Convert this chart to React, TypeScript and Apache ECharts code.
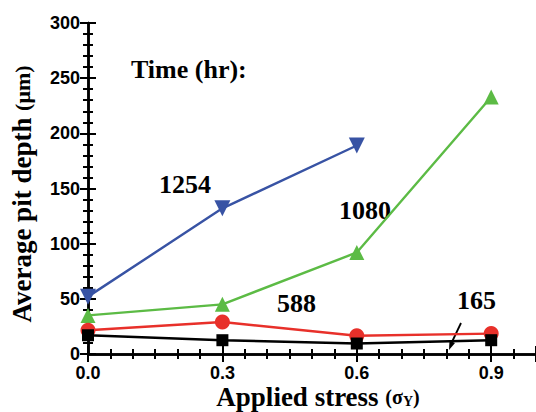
import React, { useEffect, useRef } from "react";
import * as echarts from "echarts";

const stress = [0.0, 0.3, 0.6, 0.9];
const depth1254 = [52, 132, 189];
const depth1080 = [35, 45, 92, 233];
const depth588 = [21.5, 29, 16.5, 18.5];
const depth165 = [17, 12.5, 9.5, 12.5];
const xTicks = [0.0, 0.3, 0.6, 0.9];
const yTicks = [0, 50, 100, 150, 200, 250, 300];

const pairs = (ys: number[]) => ys.map((y, i) => [stress[i], y]);

const BLUE = "#3853a4";
const GREEN = "#5cbb45";
const RED = "#e8302a";
const BLACK = "#000000";

const SANS = "Liberation Sans";
const SERIF = "Liberation Serif";
const annot = (text: string, x: number, y: number) => ({
  type: "text",
  x,
  y,
  style: { text, fontFamily: SERIF, fontWeight: "bold", fontSize: 26, fill: "#000", align: "left", verticalAlign: "middle" },
});

export default function App() {
  const ref = useRef<HTMLDivElement>(null);
  useEffect(() => {
    document.body.style.margin = "0";
    const chart = echarts.init(ref.current!, null, { renderer: "svg" });
    const axisLine = { show: true, lineStyle: { color: "#000", width: 2.5 } };
    const tick = { show: true, inside: true, length: 8, lineStyle: { width: 2, color: "#000" } };
    const grid = { left: 88, top: 23, width: 450, height: 331 };
    chart.setOption({
      animation: false,
      backgroundColor: "#fff",
      textStyle: { fontFamily: SANS, fontWeight: "bold", fontSize: 18, color: "#000" },
      grid,
      xAxis: [
        {
          type: "value",
          min: 0,
          max: 1.0,
          interval: 0.3,
          axisLine,
          axisTick: tick,
          minorTick: { show: true, splitNumber: 6, length: 5, lineStyle: { width: 2, color: "#000" } },
          splitLine: { show: false },
          axisLabel: {
            show: true,
            fontFamily: SANS,
            fontWeight: "bold",
            fontSize: 18,
            color: "#000",
            margin: 10,
            showMaxLabel: false,
            formatter: (v: number) => (xTicks.some((t) => Math.abs(t - v) < 1e-6) ? v.toFixed(1) : ""),
          },
        },
        {
          type: "value",
          position: "top",
          min: 0,
          max: 1.0,
          interval: 0.3,
          axisLine,
          axisTick: tick,
          minorTick: { show: true, splitNumber: 6, length: 5, lineStyle: { width: 2, color: "#000" } },
          splitLine: { show: false },
          axisLabel: { show: false },
        },
      ],
      yAxis: [
        {
          type: "value",
          min: 0,
          max: 300,
          interval: 50,
          axisLine,
          axisTick: tick,
          minorTick: { show: true, splitNumber: 5, length: 5, lineStyle: { width: 2, color: "#000" } },
          splitLine: { show: false },
          axisLabel: {
            show: true,
            fontFamily: SANS,
            fontWeight: "bold",
            fontSize: 18,
            color: "#000",
            margin: 8,
            formatter: (v: number) => (yTicks.includes(v) ? String(v) : ""),
          },
        },
        {
          type: "value",
          position: "right",
          min: 0,
          max: 300,
          interval: 50,
          axisLine,
          axisTick: tick,
          minorTick: { show: true, splitNumber: 5, length: 5, lineStyle: { width: 2, color: "#000" } },
          splitLine: { show: false },
          axisLabel: { show: false },
        },
      ],
      series: [
        {
          name: "1254",
          type: "line",
          data: pairs(depth1254),
          symbol: "triangle",
          symbolRotate: 180,
          symbolSize: 16,
          lineStyle: { color: BLUE, width: 2.4 },
          itemStyle: { color: BLUE },
        },
        {
          name: "1080",
          type: "line",
          data: pairs(depth1080),
          symbol: "triangle",
          symbolSize: 15,
          lineStyle: { color: GREEN, width: 2.4 },
          itemStyle: { color: GREEN },
        },
        {
          name: "588",
          type: "line",
          data: pairs(depth588),
          symbol: "circle",
          symbolSize: 15,
          lineStyle: { color: RED, width: 2.4 },
          itemStyle: { color: RED },
        },
        {
          name: "165",
          type: "line",
          data: pairs(depth165),
          symbol: "rect",
          symbolSize: 12,
          lineStyle: { color: BLACK, width: 2.4 },
          itemStyle: { color: BLACK },
        },
      ],
      graphic: [
        annot("Time (hr):", 131, 69),
        annot("1254", 159, 184),
        annot("1080", 339, 210),
        annot("588", 277, 303),
        annot("165", 457, 300),
        { type: "line", shape: { x1: 461, y1: 323, x2: 451, y2: 344 }, style: { stroke: "#000", lineWidth: 1.8 } },
        { type: "polygon", shape: { points: [[449, 350], [455, 343], [449.5, 340.5]] }, style: { fill: "#000" } },
        {
          type: "text",
          x: 22,
          y: 194,
          rotation: Math.PI / 2,
          style: {
            text: "{a|Average pit depth }{b|(μm)}",
            align: "center",
            verticalAlign: "middle",
            rich: {
              a: { fontFamily: SERIF, fontWeight: "bold", fontSize: 27, fill: "#000" },
              b: { fontFamily: SERIF, fontWeight: "bold", fontSize: 22, fill: "#000" },
            },
          },
        },
        {
          type: "text",
          x: 318,
          y: 397,
          style: {
            text: "{a|Applied stress }{b|(σ}{c|Y}{b|)}",
            align: "center",
            verticalAlign: "middle",
            rich: {
              a: { fontFamily: SERIF, fontWeight: "bold", fontSize: 27, fill: "#000" },
              b: { fontFamily: SERIF, fontWeight: "bold", fontSize: 20, fill: "#000" },
              c: { fontFamily: SERIF, fontWeight: "bold", fontSize: 14, fill: "#000", padding: [8, 0, 0, 0] },
            },
          },
        },
      ],
    });
    return () => chart.dispose();
  }, []);
  return <div ref={ref} style={{ width: 536, height: 412 }} />;
}
